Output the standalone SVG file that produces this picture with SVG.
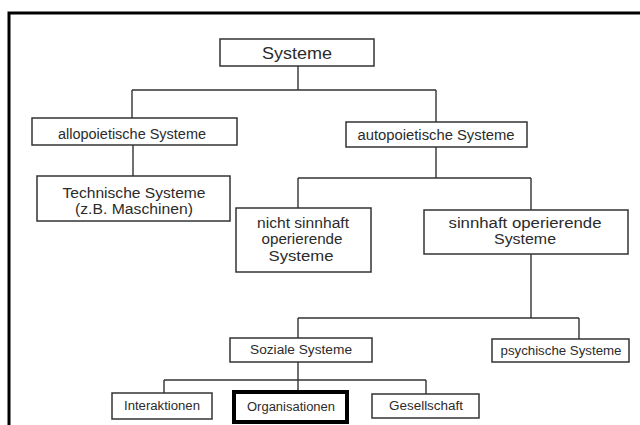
<svg xmlns="http://www.w3.org/2000/svg" width="640" height="425" viewBox="0 0 640 425">
<style>
.box{fill:#fff;stroke:#333;stroke-width:1.5}
.hl{fill:#fff;stroke:#000;stroke-width:4}
.con{fill:none;stroke:#333;stroke-width:1.4}
text{font-family:"Liberation Sans",Arial,sans-serif;fill:#2b2b2b;text-anchor:middle}
.t1{font-size:17px}
.t2{font-size:14px}
.t3{font-size:12px}
</style>
<rect x="0" y="0" width="640" height="425" fill="#fff"/>
<path d="M9,425 V13 H640" fill="none" stroke="#000" stroke-width="3"/>
<g id="connectors">
<path class="con" d="M298,66 V90 M132,90 H436 M132,90 V118 M436,90 V122"/>
<path class="con" d="M133,145 V176"/>
<path class="con" d="M436,147 V178 M298,178 H531 M298,178 V208 M531,178 V210"/>
<path class="con" d="M531,254 V318 M298,318 H579 M298,318 V338 M579,318 V339"/>
<path class="con" d="M298,362 V380 M164,380 H426 M164,380 V393 M298,380 V392 M426,380 V394"/>
</g>
<g id="systeme">
<rect class="box" x="220" y="39" width="154" height="27"/>
<text class="t1" x="297" y="59" textLength="70" lengthAdjust="spacingAndGlyphs">Systeme</text>
</g>
<g id="allopoietisch">
<rect class="box" x="32" y="118" width="205" height="27"/>
<text class="t2" x="132" y="139" textLength="148" lengthAdjust="spacingAndGlyphs">allopoietische Systeme</text>
</g>
<g id="autopoietisch">
<rect class="box" x="346" y="122" width="181" height="25"/>
<text class="t2" x="436" y="140" textLength="157" lengthAdjust="spacingAndGlyphs">autopoietische Systeme</text>
</g>
<g id="technisch">
<rect class="box" x="37" y="176" width="193" height="45"/>
<text class="t2" x="134" y="198" textLength="143" lengthAdjust="spacingAndGlyphs">Technische Systeme</text>
<text class="t2" x="134" y="214" textLength="118" lengthAdjust="spacingAndGlyphs">(z.B. Maschinen)</text>
</g>
<g id="nicht-sinnhaft">
<rect class="box" x="236" y="208" width="135" height="64"/>
<text class="t2" x="303" y="228" textLength="92" lengthAdjust="spacingAndGlyphs">nicht sinnhaft</text>
<text class="t2" x="302" y="244" textLength="81" lengthAdjust="spacingAndGlyphs">operierende</text>
<text class="t2" x="301" y="261" textLength="65" lengthAdjust="spacingAndGlyphs">Systeme</text>
</g>
<g id="sinnhaft">
<rect class="box" x="424" y="210" width="204" height="44"/>
<text class="t2" x="525" y="228" textLength="153" lengthAdjust="spacingAndGlyphs">sinnhaft operierende</text>
<text class="t2" x="525" y="244" textLength="62" lengthAdjust="spacingAndGlyphs">Systeme</text>
</g>
<g id="soziale">
<rect class="box" x="230" y="338" width="142" height="24"/>
<text class="t3" x="301" y="354" textLength="102" lengthAdjust="spacingAndGlyphs">Soziale Systeme</text>
</g>
<g id="psychische">
<rect class="box" x="492" y="339" width="137" height="23"/>
<text class="t3" x="561" y="355" textLength="121" lengthAdjust="spacingAndGlyphs">psychische Systeme</text>
</g>
<g id="interaktionen">
<rect class="box" x="112" y="393" width="100" height="26"/>
<text class="t3" x="162" y="410" textLength="76" lengthAdjust="spacingAndGlyphs">Interaktionen</text>
</g>
<g id="organisationen">
<rect class="hl" x="234" y="392" width="113" height="30"/>
<text class="t3" x="291" y="411" textLength="88" lengthAdjust="spacingAndGlyphs">Organisationen</text>
</g>
<g id="gesellschaft">
<rect class="box" x="372" y="394" width="107" height="24"/>
<text class="t3" x="426" y="410" textLength="74" lengthAdjust="spacingAndGlyphs">Gesellschaft</text>
</g>
</svg>
